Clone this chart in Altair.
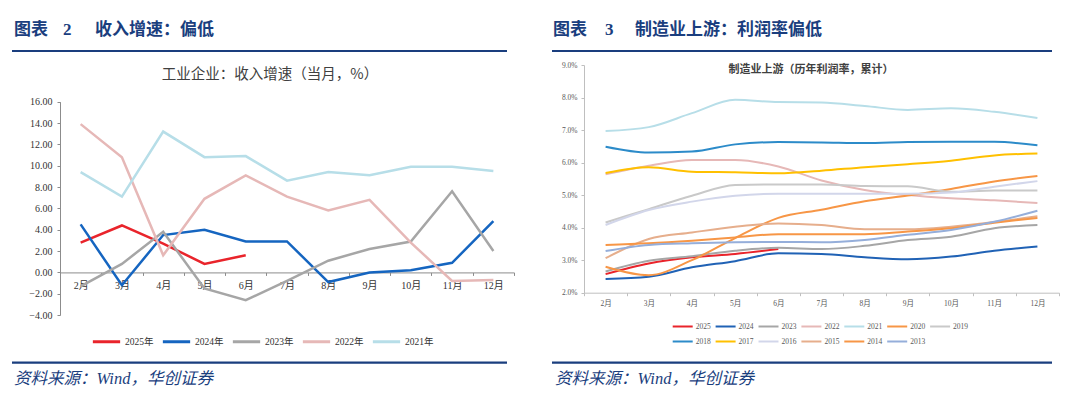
import altair as alt
import pandas as pd

months = ["2月", "3月", "4月", "5月", "6月", "7月", "8月", "9月", "10月", "11月", "12月"]

# ---- Figure 2: revenue growth (monthly, %) ----
rev_years = ["2025年", "2024年", "2023年", "2022年", "2021年"]
rev_2025 = [2.8, 4.4, 2.7, 0.8, 1.6]
rev_2024 = [4.5, -1.2, 3.5, 4.0, 2.9, 2.9, -0.9, 0.0, 0.2, 0.9, 4.8]
rev_2023 = [-1.3, 0.8, 3.8, -1.5, -2.6, -0.8, 1.1, 2.2, 2.9, 7.6, 2.0]
rev_2022 = [13.9, 10.8, 1.6, 6.9, 9.1, 7.1, 5.8, 6.8, 2.8, -0.8, -0.7]
rev_2021 = [9.4, 7.1, 13.2, 10.8, 10.9, 8.6, 9.4, 9.1, 9.9, 9.9, 9.5]
rev_colors = ["#E9242B", "#1565C0", "#A6A6A6", "#E6B8B7", "#B7DEE8"]
rev_ticks = [-4, -2, 0, 2, 4, 6, 8, 10, 12, 14, 16]

# ---- Figure 3: upstream manufacturing profit margin (cumulative, %) ----
pm_years = ["2025", "2024", "2023", "2022", "2021", "2020", "2019",
            "2018", "2017", "2016", "2015", "2014", "2013"]
pm_2025 = [2.57, 2.90, 3.09, 3.19, 3.34]
pm_2024 = [2.42, 2.49, 2.78, 2.97, 3.21, 3.19, 3.09, 3.03, 3.11, 3.29, 3.42]
pm_2023 = [2.65, 2.98, 3.12, 3.29, 3.38, 3.34, 3.44, 3.62, 3.72, 3.98, 4.08]
pm_2022 = [5.64, 5.90, 6.08, 6.08, 5.88, 5.45, 5.16, 5.00, 4.90, 4.84, 4.76]
pm_2021 = [6.97, 7.09, 7.52, 7.93, 7.86, 7.85, 7.74, 7.62, 7.67, 7.56, 7.37]
pm_2020 = [2.80, 2.54, 3.00, 3.68, 4.30, 4.55, 4.81, 4.99, 5.19, 5.42, 5.59]
pm_2019 = [4.16, 4.57, 4.98, 5.31, 5.33, 5.33, 5.28, 5.27, 5.10, 5.14, 5.14]
pm_2018 = [6.49, 6.31, 6.34, 6.56, 6.63, 6.62, 6.60, 6.63, 6.64, 6.64, 6.53]
pm_2017 = [5.68, 5.86, 5.72, 5.70, 5.67, 5.75, 5.86, 5.95, 6.06, 6.22, 6.28]
pm_2016 = [4.08, 4.54, 4.80, 4.98, 5.04, 5.04, 5.04, 5.04, 5.08, 5.26, 5.43]
pm_2015 = [3.06, 3.65, 3.85, 4.03, 4.13, 4.08, 3.95, 3.95, 4.03, 4.17, 4.35]
pm_2014 = [3.47, 3.52, 3.60, 3.70, 3.80, 3.80, 3.80, 3.88, 3.98, 4.15, 4.30]
pm_2013 = [3.28, 3.47, 3.52, 3.55, 3.56, 3.55, 3.62, 3.78, 3.93, 4.18, 4.52]
pm_colors = ["#E9242B", "#2062B5", "#A6A6A6", "#E6B8B7", "#B7DEE8", "#F79646", "#C9C9C9",
             "#2C8BC9", "#FFC000", "#D2D6EA", "#E6AE8C", "#F79646", "#95AEDA"]
pm_widths = [2, 2, 2, 1.6, 1.6, 2, 2, 2.4, 2.4, 1.6, 1.6, 3.5, 3.5]
pm_ticks = [2, 3, 4, 5, 6, 7, 8, 9]

NAVY = "#1A3E7E"
FONT_NUM = "Liberation Serif, Noto Sans CJK SC"
FONT_CJK = "Noto Sans CJK SC"
W, H = 1064, 384


def long_df(years, series):
    rows = []
    for yr, vals in zip(years, series):
        for m, v in zip(months, vals):
            rows.append({"month": m, "year": yr, "value": v})
    return pd.DataFrame(rows)


df_rev = long_df(rev_years, [rev_2025, rev_2024, rev_2023, rev_2022, rev_2021])
df_pm = long_df(pm_years, [pm_2025, pm_2024, pm_2023, pm_2022, pm_2021, pm_2020, pm_2019,
                           pm_2018, pm_2017, pm_2016, pm_2015, pm_2014, pm_2013])

# left panel geometry (canvas pixels)
L_X = [52, 506]
L_Y = [307.1, 93.7]
L_ZERO = L_Y[0] - 4 * (L_Y[0] - L_Y[1]) / 20.0
# right panel geometry
R_X = [576, 1051]
R_Y = [284.7, 57]

left = alt.Chart(df_rev).mark_line(strokeWidth=2.5).encode(
    x=alt.X("month:N", sort=months,
            scale=alt.Scale(type="band", domain=months, range=L_X, paddingInner=0, paddingOuter=0),
            axis=alt.Axis(orient="bottom", offset=L_ZERO - H, title=None, grid=False,
                          tickBand="extent", tickSize=3, labelAngle=0, labelPadding=5,
                          domainColor="#8C8C8C", tickColor="#8C8C8C", labelColor="#333333",
                          labelFont=FONT_NUM, labelFontSize=10)),
    y=alt.Y("value:Q",
            scale=alt.Scale(domain=[-4, 16], range=L_Y, nice=False, zero=False),
            axis=alt.Axis(orient="left", offset=-L_X[0], title=None, grid=False,
                          values=rev_ticks, format=".2f", tickSize=3, labelPadding=5,
                          domainColor="#8C8C8C", tickColor="#8C8C8C", labelColor="#333333",
                          labelFont=FONT_NUM, labelFontSize=10)),
    color=alt.Color("year:N", sort=rev_years,
                    scale=alt.Scale(domain=rev_years, range=rev_colors),
                    legend=alt.Legend(orient="none", legendX=83, legendY=318, direction="horizontal",
                                      columns=5, title=None, symbolType="stroke", symbolSize=745,
                                      symbolStrokeWidth=3, labelFont=FONT_NUM, labelFontSize=9.5,
                                      labelColor="#333333", columnPadding=2, labelOffset=3)),
)

right = alt.Chart(df_pm).mark_line(interpolate="monotone").encode(
    x=alt.X("month:N", sort=months,
            scale=alt.Scale(type="band", domain=months, range=R_X, paddingInner=0, paddingOuter=0),
            axis=alt.Axis(orient="bottom", offset=R_Y[0] - H, title=None, grid=False,
                          tickBand="extent", tickSize=3, labelAngle=0, labelPadding=4,
                          domainColor="#BFBFBF", tickColor="#BFBFBF", labelColor="#595959",
                          labelFont=FONT_NUM, labelFontSize=7.5)),
    y=alt.Y("value:Q",
            scale=alt.Scale(domain=[2, 9], range=R_Y, nice=False, zero=False),
            axis=alt.Axis(orient="left", offset=-R_X[0], title=None, grid=False,
                          values=pm_ticks, labelExpr="format(datum.value, '.1f') + '%'",
                          tickSize=3, labelPadding=4,
                          domainColor="#BFBFBF", tickColor="#BFBFBF", labelColor="#595959",
                          labelFont=FONT_NUM, labelFontSize=7.5)),
    color=alt.Color("year:N", sort=pm_years,
                    scale=alt.Scale(domain=pm_years, range=pm_colors),
                    legend=alt.Legend(orient="none", legendX=663.7, legendY=307.5, direction="horizontal",
                                      columns=7, title=None, symbolType="stroke", symbolSize=400,
                                      symbolStrokeWidth=2.5, labelFont=FONT_NUM, labelFontSize=7.5,
                                      labelColor="#595959", columnPadding=0.9, rowPadding=-1,
                                      labelOffset=2)),
    strokeWidth=alt.StrokeWidth("year:N", sort=pm_years,
                                scale=alt.Scale(domain=pm_years, range=pm_widths), legend=None),
)

one = pd.DataFrame({"a": [0]})


def txt(s, x, y, size, color, weight="normal", font=FONT_CJK, align="left", style="normal"):
    return alt.Chart(one).mark_text(text=s, fontSize=size, color=color, fontWeight=weight, font=font,
                                    align=align, baseline="alphabetic", fontStyle=style).encode(
        x=alt.value(x), y=alt.value(y))


def hrule(x1, x2, y, w=2.2):
    return alt.Chart(one).mark_rule(color=NAVY, strokeWidth=w).encode(
        x=alt.value(x1), x2=alt.value(x2), y=alt.value(y))


deco = [
    txt("图表", 6, 27, 17, NAVY, "bold"),
    txt("2", 55, 27, 17, NAVY, "bold", FONT_NUM),
    txt("收入增速：偏低", 87, 27, 17, NAVY, "bold"),
    txt("图表", 545, 27, 17, NAVY, "bold"),
    txt("3", 597, 27, 17, NAVY, "bold", FONT_NUM),
    txt("制造业上游：利润率偏低", 627, 27, 17, NAVY, "bold"),
    hrule(4, 499, 43),
    hrule(544, 1044, 43),
    hrule(4, 499, 354.7),
    hrule(544, 1044, 354.7),
    txt("工业企业：收入增速（当月，%）", 262, 71, 14.5, "#404040", "normal", FONT_CJK, "center"),
    txt("制造业上游（历年利润率，累计）", 803, 65, 11, "#404040", "bold", FONT_CJK, "center"),
    txt("资料来源：Wind，华创证券", 6, 376, 16.5, NAVY, "normal", "Liberation Serif, Noto Sans CJK SC",
        "left", "italic"),
    txt("资料来源：Wind，华创证券", 547, 376, 16.5, NAVY, "normal", "Liberation Serif, Noto Sans CJK SC",
        "left", "italic"),
]

chart = alt.layer(left, right, *deco).resolve_scale(
    x="independent", y="independent", color="independent", strokeWidth="independent"
).properties(
    width=W, height=H, autosize=alt.AutoSizeParams(type="none"), padding=0, background="white"
).configure_view(stroke=None)

chart.save("out.html", embed_options={"renderer": "svg", "actions": False})
